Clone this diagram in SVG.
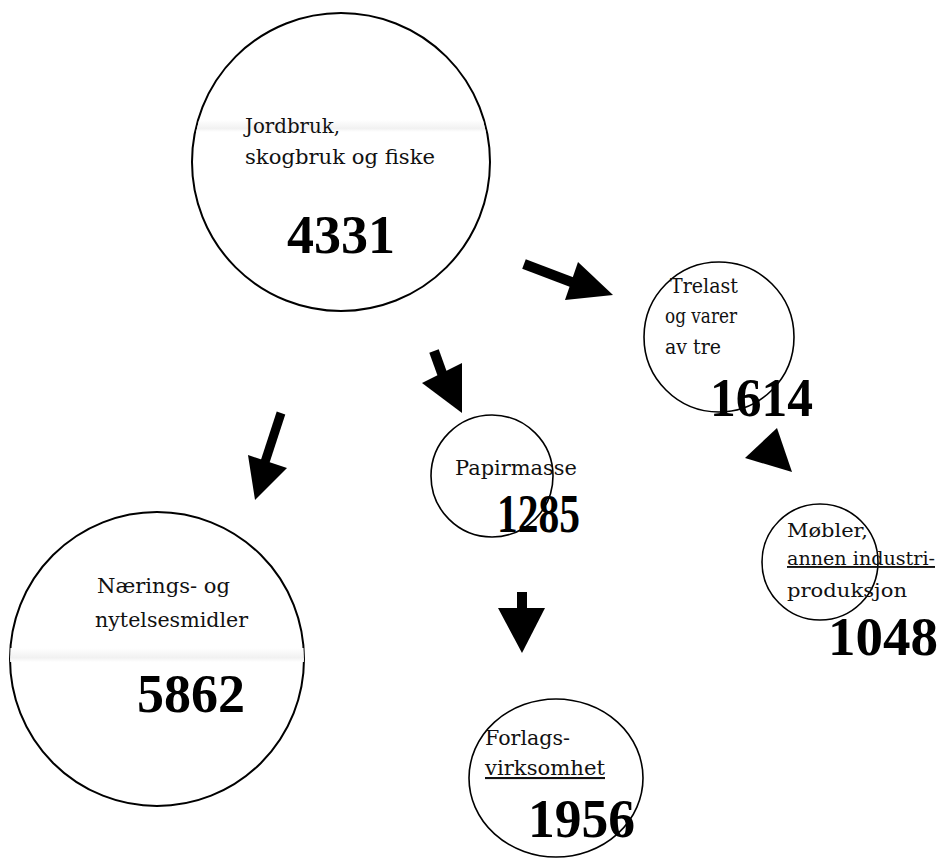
<svg xmlns="http://www.w3.org/2000/svg" width="944" height="859" viewBox="0 0 944 859">
<style>
.c{fill:#fff;stroke:#000;stroke-width:2}
.cs{fill:#fff;stroke:#000;stroke-width:1.6}
.t{font-family:"DejaVu Serif","Liberation Serif",serif;font-size:21px;fill:#111}
.m{font-size:19px}
.n{font-family:"Liberation Serif","Times New Roman",serif;font-size:54px;font-weight:bold;fill:#000}
.u{text-decoration:underline}
.a{fill:#000;stroke:none}
.s{stroke:#000;fill:none}
</style>
<defs>
<linearGradient id="band" x1="0" y1="0" x2="0" y2="1">
<stop offset="0" stop-color="#fff"/>
<stop offset="0.7" stop-color="#f1f1f1"/>
<stop offset="1" stop-color="#fff"/>
</linearGradient>
<clipPath id="cp1"><circle cx="341" cy="162" r="148"/></clipPath>
<clipPath id="cp2"><circle cx="157" cy="659" r="147"/></clipPath>
</defs>
<rect width="944" height="859" fill="#fff"/>
<g id="jordbruk">
<circle class="c" cx="341" cy="162" r="149"/>
<rect x="190" y="120" width="300" height="12" fill="url(#band)" clip-path="url(#cp1)"/>
<text class="t" x="245" y="133" textLength="95" lengthAdjust="spacingAndGlyphs">Jordbruk,</text>
<text class="t" x="245" y="164" textLength="190" lengthAdjust="spacingAndGlyphs">skogbruk og fiske</text>
<text class="n" x="287" y="253" textLength="108" lengthAdjust="spacingAndGlyphs">4331</text>
</g>
<g id="trelast">
<circle class="cs" cx="719" cy="337" r="75"/>
<text class="t" x="670" y="293" textLength="68" lengthAdjust="spacingAndGlyphs">Trelast</text>
<text class="t" x="665" y="323" textLength="72" lengthAdjust="spacingAndGlyphs">og varer</text>
<text class="t" x="665" y="354" textLength="56" lengthAdjust="spacingAndGlyphs">av tre</text>
<text class="n" x="710" y="416" textLength="103" lengthAdjust="spacingAndGlyphs">1614</text>
</g>
<g id="papirmasse">
<circle class="cs" cx="492" cy="476" r="61"/>
<text class="t" x="455" y="475" textLength="122" lengthAdjust="spacingAndGlyphs">Papirmasse</text>
<text class="n" x="497" y="532" font-size="46" textLength="83" lengthAdjust="spacingAndGlyphs">1285</text>
</g>
<g id="mobler">
<circle class="cs" cx="820" cy="562" r="58"/>
<text class="t m" x="787" y="537" textLength="81" lengthAdjust="spacingAndGlyphs">Møbler,</text>
<text class="t m u" x="787" y="565" textLength="148" lengthAdjust="spacingAndGlyphs">annen industri-</text>
<text class="t m" x="787" y="597" textLength="120" lengthAdjust="spacingAndGlyphs">produksjon</text>
<text class="n" x="828" y="655" textLength="110" lengthAdjust="spacingAndGlyphs">1048</text>
</g>
<g id="forlag">
<ellipse class="cs" cx="556" cy="778" rx="87" ry="79"/>
<text class="t" x="485" y="745" textLength="85" lengthAdjust="spacingAndGlyphs">Forlags-</text>
<text class="t u" x="485" y="775" textLength="120" lengthAdjust="spacingAndGlyphs">virksomhet</text>
<text class="n" x="528" y="837" textLength="107" lengthAdjust="spacingAndGlyphs">1956</text>
</g>
<g id="naering">
<circle class="c" cx="157" cy="659" r="147"/>
<rect x="8" y="648" width="300" height="14" fill="url(#band)" clip-path="url(#cp2)"/>
<text class="t" x="97" y="593" textLength="133" lengthAdjust="spacingAndGlyphs">Nærings- og</text>
<text class="t" x="95" y="627" textLength="153" lengthAdjust="spacingAndGlyphs">nytelsesmidler</text>
<text class="n" x="137" y="712" textLength="108" lengthAdjust="spacingAndGlyphs">5862</text>
</g>
<g id="connectors">
<line class="s" x1="524" y1="264" x2="574" y2="283" stroke-width="10"/>
<polygon class="a" points="578,262 565,300 613,295"/>
<line class="s" x1="434" y1="351" x2="443" y2="376" stroke-width="10"/>
<polygon class="a" points="422,383 462,363 462,413"/>
<line class="s" x1="281" y1="413" x2="265" y2="462" stroke-width="9"/>
<polygon class="a" points="248,455 287,468 255,500"/>
<polygon class="a" points="777,428 745,458 792,472"/>
<rect class="a" x="517" y="592" width="10" height="18"/>
<polygon class="a" points="498,608 545,608 522,653"/>
</g>
</svg>
